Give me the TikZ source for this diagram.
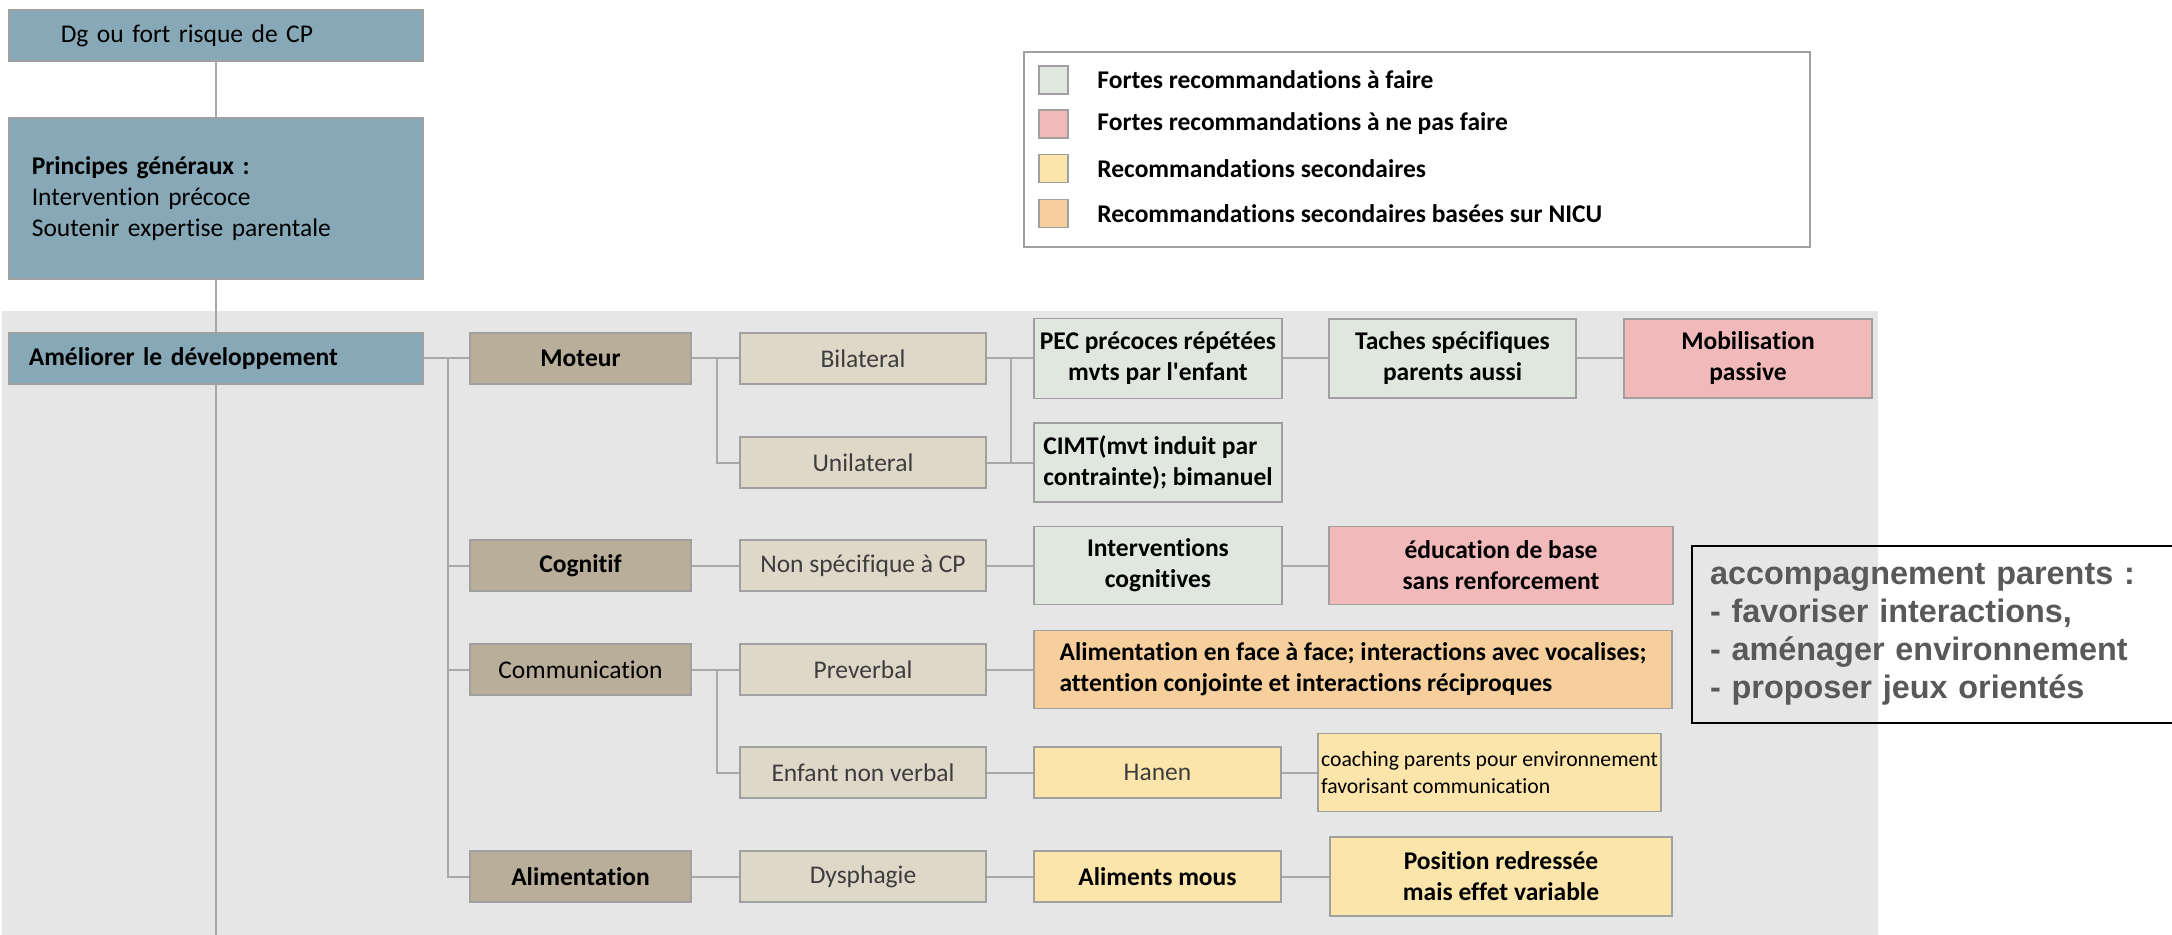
\documentclass[tikz,border=0pt]{standalone}
\usepackage{fontspec}
\setmainfont{Carlito}[Ligatures=NoCommon]
\newfontfamily\notefont{Liberation Sans}
\usetikzlibrary{positioning}
\definecolor{cpblue}{HTML}{86A8B7}
\definecolor{taupe}{HTML}{B8AE9A}
\definecolor{ltaupe}{HTML}{DDD8C8}
\definecolor{recgreen}{HTML}{DFE7DF}
\definecolor{recpink}{HTML}{F1B9B9}
\definecolor{recorange}{HTML}{F6CF9D}
\definecolor{recyellow}{HTML}{FCE5AB}
\definecolor{bggray}{HTML}{E6E6E6}
\definecolor{linegray}{HTML}{A8A8A8}
\definecolor{edgegray}{HTML}{A0A0A0}
\definecolor{txtgray}{HTML}{3D3D3D}
\definecolor{notegray}{HTML}{595959}
\newcommand{\boxfont}{\fontsize{12.75pt}{15.5pt}\selectfont}
\newcommand{\smallboxfont}{\fontsize{10.85pt}{13.5pt}\selectfont}

\begin{document}
\begin{tikzpicture}[x=0.5pt, y=-0.5pt,
  conn/.style={draw=linegray, line width=1pt},
  bluebox/.style={draw=edgegray, line width=0.8pt, fill=cpblue, font=\boxfont,
    align=left, minimum height=25.5pt},
  lvlone/.style={draw=edgegray, line width=0.8pt, fill=taupe, font=\boxfont,
    minimum width=110.5pt, minimum height=25.5pt},
  lvltwo/.style={draw=edgegray, line width=0.8pt, fill=ltaupe, font=\boxfont,
    text=txtgray, minimum width=123pt, minimum height=25.5pt},
  recbox/.style={draw=edgegray, line width=0.8pt, fill=#1, font=\boxfont\bfseries,
    align=center, inner sep=1pt, minimum width=124pt, minimum height=39.5pt},
  swatch/.style={draw=edgegray, line width=0.8pt, fill=#1, inner sep=0pt,
    minimum width=14.5pt, minimum height=14pt},
  legtext/.style={anchor=west, font=\boxfont\bfseries, inner sep=0pt},
]
\useasboundingbox (0,0) rectangle (2172,935);

% Background of the tree
\fill[bggray] (2,311) rectangle (1878,935);

% === Top of the trunk ===
\node[bluebox, anchor=west, inner xsep=26pt, text width=155pt] (dg) at (8,35.5)
  {Dg ou fort risque de CP};
\coordinate (picbottom) at (0,935);
\draw[conn] (dg.south) -- (dg.south |- picbottom);

\node[bluebox, anchor=north west, inner xsep=11.5pt, text width=184pt,
  minimum height=80.5pt] (princ) at (8,117)
  {\textbf{Principes généraux :}\\Intervention précoce\\Soutenir expertise parentale\par\vspace{16pt}};

\node[bluebox, anchor=west, inner xsep=10pt, text width=187pt] (amel) at (8,358.5)
  {\textbf{Améliorer le développement}};

% === Legend ===
\node[draw=edgegray, line width=0.8pt, fill=white, minimum width=393pt,
  minimum height=97.5pt] (legend) at (1417,149.5) {};
\node[swatch=recgreen] (swgreen) at (1053.5,80) {};
\node[swatch=recpink] (swpink) at (1053.5,124) {};
\node[swatch=recyellow] (swyellow) at (1053.5,168.5) {};
\node[swatch=recorange] (sworange) at (1053.5,213.5) {};
\node[legtext] (lggreen) at (1097,80) {Fortes recommandations à faire};
\node[legtext] (lgpink) at (1097,124) {Fortes recommandations à ne pas faire};
\node[legtext] (lgyellow) at (1097,168.5) {Recommandations secondaires};
\node[legtext] (lgorange) at (1097,213.5) {Recommandations secondaires basées sur NICU};

% === Domains ===
\node[lvlone, font=\boxfont\bfseries] (moteur) at (580.5,358.5) {Moteur};
\node[lvlone, font=\boxfont\bfseries] (cognitif) at (580.5,565.5) {Cognitif};
\node[lvlone] (comm) at (580.5,669.5) {Communication};
\node[lvlone, font=\boxfont\bfseries] (alim) at (580.5,876.5) {Alimentation};

% === Sub-groups ===
\node[lvltwo] (bilat) at (863,358.5) {Bilateral};
\node[lvltwo] (unilat) at (863,462.5) {Unilateral};
\node[lvltwo] (nonspec) at (863,565.5) {Non spécifique à CP};
\node[lvltwo] (preverb) at (863,669.5) {Preverbal};
\node[lvltwo] (enfant) at (863,772.5) {Enfant non verbal};
\node[lvltwo] (dysph) at (863,876.5) {Dysphagie};

% === Recommendations ===
\node[recbox=recgreen, minimum height=40pt] (pec) at (1158,358.5)
  {PEC précoces répétées\\mvts par l\textquotesingle enfant};
\node[recbox=recgreen, align=left] (cimt) at (1158,462.5)
  {CIMT(mvt induit par\\contrainte); bimanuel};
\node[recbox=recgreen, minimum width=123.5pt] (taches) at (1452.5,358.5)
  {Taches spécifiques\\parents aussi};
\node[recbox=recpink] (mobil) at (1748,358.5) {Mobilisation\\passive};
\node[recbox=recgreen, minimum height=39pt] (interv) at (1158,565.5)
  {Interventions\\cognitives};
\node[recbox=recpink, minimum width=172pt, minimum height=39pt] (educ) at (1501,565.5)
  {éducation de base\\sans renforcement};
\node[recbox=recorange, align=left, minimum width=319pt,
  minimum height=39pt] (nicu) at (1353,669.5)
  {Alimentation en face à face; interactions avec vocalises;\\
   attention conjointe et interactions réciproques};
\node[recbox=recyellow, font=\boxfont, text=txtgray, minimum width=123.5pt,
  minimum height=25.5pt] (hanen) at (1157.5,772.5) {Hanen};
\node[recbox=recyellow, font=\smallboxfont, align=left, minimum width=171.5pt,
  minimum height=39pt] (coach) at (1489.5,772.5)
  {coaching parents pour environnement\\favorisant communication};
\node[recbox=recyellow, minimum width=123.5pt, minimum height=25.5pt] (almous)
  at (1157.5,876.5) {Aliments mous};
\node[recbox=recyellow, minimum width=171pt] (posit) at (1501,876.5)
  {Position redressée\\mais effet variable};

% === Connectors ===
\foreach \n in {moteur, cognitif, comm, alim}
  \draw[conn] (amel.east) -- ++(24,0) |- (\n.west);
\draw[conn] (moteur.east) -- ++(25,0) |- (unilat.west);
\draw[conn] (moteur.east) -- (bilat.west);
\draw[conn] (cognitif.east) -- (nonspec.west);
\draw[conn] (comm.east) -- ++(25,0) |- (enfant.west);
\draw[conn] (comm.east) -- (preverb.west);
\draw[conn] (alim.east) -- (dysph.west);
\draw[conn] (bilat.east) -- ++(24,0) |- (cimt.west);
\draw[conn] (unilat.east) -- ++(24,0) |- (pec.west);
\draw[conn] (pec.east) -- (taches.west);
\draw[conn] (taches.east) -- (mobil.west);
\draw[conn] (nonspec.east) -- (interv.west);
\draw[conn] (interv.east) -- (educ.west);
\draw[conn] (preverb.east) -- (nicu.west);
\draw[conn] (enfant.east) -- (hanen.west);
\draw[conn] (hanen.east) -- (coach.west);
\draw[conn] (dysph.east) -- (almous.west);
\draw[conn] (almous.east) -- (posit.west);

% Note on parents
\node[draw=black, line width=1pt, anchor=north west, align=left, inner xsep=9pt,
  text width=230pt, minimum height=88.5pt, text=notegray,
  font=\notefont\fontsize{16.2pt}{19pt}\selectfont\bfseries] (accomp) at (1691,545)
  {accompagnement parents :\\- favoriser interactions,\\- aménager environnement\\- proposer jeux orientés};

\end{tikzpicture}
\end{document}
